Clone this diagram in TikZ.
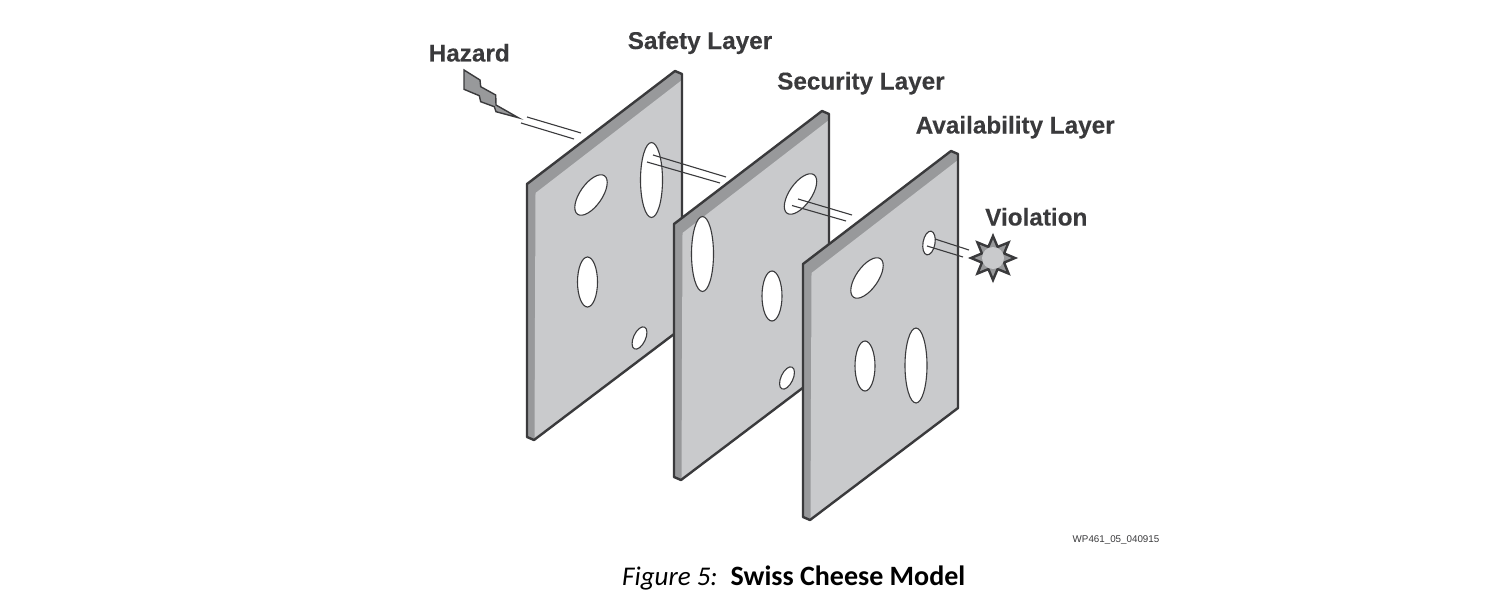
\documentclass[tikz,border=0pt]{standalone}
\usepackage{fontspec}
\setmainfont{Liberation Sans}
\newfontfamily\capfont{Carlito}
\definecolor{ink}{HTML}{3A3A3C}
\definecolor{face}{HTML}{C9CACC}
\definecolor{edgeg}{HTML}{98999B}
\tikzset{
  x=1pt,y=-1pt,
  panelouter/.style={draw=ink,line width=2.4pt,line join=round},
  hole/.style={draw=ink,line width=1.1pt,fill=white},
  ray/.style={draw=ink,line width=1.1pt},
  lbl/.style={font=\fontsize{24.3}{28}\selectfont\bfseries\addfontfeature{FakeBold=0.2},text=ink,inner sep=0pt,anchor=base west},
}
\newcommand{\panel}[2]{%
  \begin{scope}[shift={(#1,#2)}]
    \fill[edgeg] (0,113) -- (148,0) -- (155,3) -- (155,257) -- (7,369) -- (0,366) -- cycle;
    \fill[face] (8.5,122) -- (155,9) -- (155,257) -- (7.5,369) -- cycle;
    \draw[panelouter] (0,113) -- (148,0) -- (155,3) -- (155,257) -- (7,369) -- (0,366) -- cycle;
  \end{scope}}
\begin{document}
\begin{tikzpicture}
\useasboundingbox (0,0) rectangle (1499,602);
\fill[white] (0,0) rectangle (1499,602);
% panel 1
\panel{527}{71}
\draw[hole,rotate around={-35:(591,195)}] (591,195) ellipse [x radius=11,y radius=23.5];
\draw[hole] (651.5,180) ellipse [x radius=11,y radius=37.5];
\draw[hole] (587.5,282) ellipse [x radius=10,y radius=25];
\draw[hole,rotate around={-25:(639.5,338)}] (639.5,338) ellipse [x radius=6,y radius=12];
\draw[ray] (653,155) -- (726,177);
\draw[ray] (647,162) -- (720,183);
\draw[ray] (527,117) -- (581,133);
\draw[ray] (521,123) -- (574,139);
% panel 2
\panel{674}{111}
\draw[hole] (702.5,254) ellipse [x radius=11,y radius=37.5];
\draw[hole] (772,296) ellipse [x radius=10,y radius=25];
\draw[hole,rotate around={-35:(800.5,194)}] (800.5,194) ellipse [x radius=11,y radius=23.5];
\draw[hole,rotate around={-25:(787,378)}] (787,378) ellipse [x radius=6,y radius=12];
\draw[ray] (798,199) -- (852,215);
\draw[ray] (792,205.5) -- (846,221);
% panel 3
\panel{803}{151}
\draw[hole,rotate around={-35:(867,278)}] (867,278) ellipse [x radius=11,y radius=23.5];
\draw[hole] (865,366) ellipse [x radius=10,y radius=25];
\draw[hole] (916,365.5) ellipse [x radius=11,y radius=37.5];
\draw[hole,rotate around={-10:(929,243)}] (929,243) ellipse [x radius=6,y radius=12];
\draw[ray] (935,239) -- (969,250);
\draw[ray] (927,246) -- (963,257);
% lightning
\draw[draw=ink,line width=1.4pt,fill=edgeg,line join=miter]
 (464,70) -- (480,80) -- (480.7,86.7) -- (495.7,95) -- (496,105) -- (518.3,117.7) -- (496,111.7) -- (494.3,106.7) -- (480.7,101.7) -- (479.3,95.7) -- (464,89.3) -- cycle;
% star
\draw[draw=ink,line width=2.4pt,fill=edgeg,line join=miter]
 (993,236) \foreach \a in {22.5,67.5,...,337.5}{ -- ({993+12*sin(\a)},{258-12*cos(\a)}) -- ({993+22*sin(\a+22.5)},{258-22*cos(\a+22.5)})} -- cycle;
\fill[face] (993,258) circle [radius=11];
% labels
\node[lbl] (hazard) at (428.5,61.5) {Hazard};
\node[lbl] (safety) at (627.5,49) {Safety Layer};
\node[lbl] (security) at (777,89.5) {Security Layer};
\node[lbl] (avail) at (915.5,133.5) {Availability Layer};
\node[lbl] (viol) at (985,225.5) {Violation};
\node[font=\fontsize{9.8}{12}\selectfont,text=ink,inner sep=0pt,anchor=base west] (ref) at (1072.5,542) {WP461\_05\_040915};
\node[text=black,inner sep=0pt,anchor=base west] (cap) at (622,585) {\capfont\fontsize{27}{30}\selectfont\textit{Figure 5:}\hspace{13pt}\fontsize{28}{30}\selectfont\textbf{Swiss Cheese Model}};
\end{tikzpicture}
\end{document}
